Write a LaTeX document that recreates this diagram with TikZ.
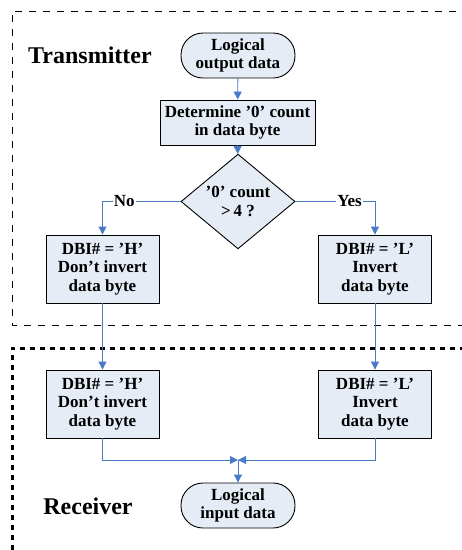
\documentclass[tikz,border=0pt]{standalone}
\usepackage{fontspec}
\setmainfont{Liberation Serif}
\usetikzlibrary{arrows.meta,shapes.geometric}
\definecolor{boxfill}{HTML}{E6ECF6}
\definecolor{linkblue}{HTML}{4A7BC8}
\tikzset{
  basebox/.style={draw=black,line width=0.9pt,fill=boxfill,align=center,inner sep=0pt,
    font=\fontsize{17}{18.5}\selectfont\bfseries},
  terminal/.style={basebox,rounded corners=22pt,minimum width=114pt,minimum height=45pt},
  procbox/.style={basebox,minimum width=155pt,minimum height=45pt},
  dbibox/.style={basebox,minimum width=113pt,minimum height=68pt},
  decision/.style={basebox,diamond,minimum width=114pt,minimum height=67pt},
  arr/.style={draw=linkblue,line width=0.9pt,-{Triangle[width=8pt,length=8pt]}},
  lbl/.style={fill=white,inner sep=1pt,font=\fontsize{17}{18.5}\selectfont\bfseries},
  region/.style={font=\fontsize{24}{27}\selectfont\bfseries}
}
\begin{document}
\begin{tikzpicture}[x=1pt,y=-1pt]
\useasboundingbox (0,0) rectangle (462,550);
\begin{scope}
\clip (0,0) rectangle (462,550);
\draw[line width=0.9pt,dash pattern=on 7pt off 7pt] (470,11) -- (12,11) -- (12,325) -- (470,325);
\draw[line width=3pt,dash pattern=on 5pt off 5pt] (12,560) -- (12,348) -- (470,348);
\end{scope}
\node[region] (tx) at (90,55) {Transmitter};
\node[region] (rx) at (88,506) {Receiver};
\node[terminal] (out) at (238,55.5) {Logical\\output data};
\node[procbox] (cnt) at (237.5,122.5) {Determine ’0’ count\\in data byte};
\node[decision] (dec) at (238,201.5) {’0’ count\\{>}\,4 ?};
\node[dbibox] (th) at (102.5,269) {DBI\# = ’H’\\Don’t invert\\data byte};
\node[dbibox] (tl) at (375,269) {DBI\# = ’L’\\Invert\\data byte};
\node[dbibox] (rh) at (102.5,404) {DBI\# = ’H’\\Don’t invert\\data byte};
\node[dbibox] (rl) at (375,404) {DBI\# = ’L’\\Invert\\data byte};
\node[terminal] (in) at (238,505.5) {Logical\\input data};
\coordinate (m) at (238,460);
\draw[arr] (out) -- (cnt);
\draw[arr] (cnt) -- (dec);
\draw[arr] (dec.west) -| node[lbl,pos=0.36] {No} (th.north);
\draw[arr] (dec.east) -| node[lbl,pos=0.34] {Yes} (tl.north);
\draw[arr] (th) -- (rh);
\draw[arr] (tl) -- (rl);
\draw[arr] (rh.south) |- (m);
\draw[arr] (rl.south) |- (m);
\draw[arr] (m) -- (in);
\end{tikzpicture}
\end{document}
